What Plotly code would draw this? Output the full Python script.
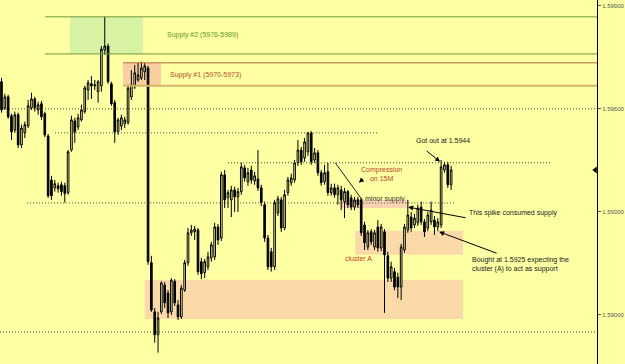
import plotly.graph_objects as go

# ---- data (prices) ----
idx = list(range(136))
open_ = [1.59679,1.59603,1.59635,1.59580,1.59538,1.59583,1.59495,1.59530,1.59550,1.59603,
         1.59629,1.59597,1.59615,1.59586,1.59521,1.59393,1.59370,1.59376,1.59379,1.59376,
         1.59356,1.59480,1.59565,1.59547,1.59568,1.59592,1.59655,1.59673,1.59667,1.59650,
         1.59667,1.59771,1.59783,1.59673,1.59618,1.59533,1.59550,1.59557,1.59560,1.59635,
         1.59664,1.59684,1.59690,1.59708,1.59719,1.59152,1.59009,1.58942,1.59009,1.59087,
         1.59064,1.59009,1.59098,1.59029,1.58994,1.59072,1.59152,1.59239,1.59242,1.59247,
         1.59155,1.59123,1.59140,1.59166,1.59169,1.59256,1.59224,1.59408,1.59341,1.59335,
         1.59364,1.59344,1.59359,1.59428,1.59388,1.59422,1.59390,1.59396,1.59370,1.59321,
         1.59224,1.59184,1.59140,1.59297,1.59335,1.59253,1.59356,1.59385,1.59393,1.59443,
         1.59480,1.59457,1.59475,1.59530,1.59451,1.59472,1.59414,1.59388,1.59417,1.59356,
         1.59370,1.59350,1.59364,1.59330,1.59359,1.59341,1.59314,1.59335,1.59335,1.59262,
         1.59198,1.59242,1.59198,1.59256,1.59195,1.59242,1.59172,1.59107,1.59126,1.59110,
         1.59081,1.59189,1.59247,1.59285,1.59262,1.59268,1.59314,1.59271,1.59253,1.59271,
         1.59276,1.59256,1.59262,1.59422,1.59437,1.59379]
high = [1.59690,1.59644,1.59641,1.59586,1.59592,1.59589,1.59554,1.59563,1.59626,1.59647,
        1.59635,1.59621,1.59623,1.59592,1.59527,1.59405,1.59393,1.59385,1.59388,1.59385,
        1.59480,1.59580,1.59574,1.59586,1.59612,1.59667,1.59684,1.59696,1.59684,1.59684,
        1.59783,1.59868,1.59790,1.59679,1.59626,1.59574,1.59583,1.59577,1.59670,1.59713,
        1.59728,1.59734,1.59737,1.59734,1.59725,1.59172,1.59020,1.59009,1.59098,1.59096,
        1.59072,1.59107,1.59104,1.59043,1.59087,1.59160,1.59253,1.59262,1.59259,1.59253,
        1.59166,1.59163,1.59184,1.59213,1.59268,1.59265,1.59417,1.59422,1.59364,1.59376,
        1.59373,1.59370,1.59443,1.59437,1.59428,1.59434,1.59417,1.59480,1.59379,1.59330,
        1.59233,1.59195,1.59335,1.59347,1.59344,1.59364,1.59402,1.59411,1.59451,1.59509,
        1.59489,1.59515,1.59533,1.59535,1.59486,1.59480,1.59422,1.59437,1.59443,1.59382,
        1.59382,1.59379,1.59376,1.59370,1.59364,1.59350,1.59344,1.59344,1.59341,1.59271,
        1.59247,1.59250,1.59247,1.59276,1.59265,1.59250,1.59184,1.59155,1.59137,1.59123,
        1.59207,1.59265,1.59335,1.59300,1.59294,1.59321,1.59330,1.59279,1.59300,1.59330,
        1.59288,1.59282,1.59451,1.59446,1.59446,1.59434]
low = [1.59589,1.59597,1.59571,1.59509,1.59530,1.59486,1.59486,1.59515,1.59544,1.59597,
       1.59592,1.59583,1.59568,1.59518,1.59341,1.59335,1.59359,1.59356,1.59347,1.59327,
       1.59350,1.59475,1.59501,1.59538,1.59563,1.59586,1.59626,1.59629,1.59655,1.59618,
       1.59650,1.59757,1.59673,1.59609,1.59501,1.59524,1.59538,1.59544,1.59554,1.59626,
       1.59658,1.59679,1.59684,1.59684,1.59146,1.59009,1.58919,1.58890,1.59003,1.59020,
       1.58991,1.59000,1.59026,1.58985,1.58988,1.59067,1.59143,1.59230,1.59218,1.59117,
       1.59104,1.59107,1.59131,1.59155,1.59160,1.59204,1.59215,1.59311,1.59311,1.59285,
       1.59300,1.59300,1.59350,1.59388,1.59376,1.59382,1.59379,1.59361,1.59317,1.59213,
       1.59131,1.59126,1.59131,1.59288,1.59242,1.59247,1.59347,1.59376,1.59385,1.59434,
       1.59437,1.59446,1.59463,1.59437,1.59443,1.59405,1.59376,1.59379,1.59347,1.59347,
       1.59341,1.59321,1.59305,1.59282,1.59311,1.59305,1.59305,1.59311,1.59230,1.59189,
       1.59189,1.59204,1.59189,1.59184,1.59186,1.59006,1.59096,1.59096,1.59072,1.59049,
       1.59043,1.59181,1.59239,1.59242,1.59253,1.59259,1.59262,1.59227,1.59244,1.59262,
       1.59233,1.59244,1.59253,1.59414,1.59370,1.59364]
close = [1.59597,1.59635,1.59577,1.59533,1.59583,1.59495,1.59544,1.59554,1.59609,1.59629,
         1.59603,1.59612,1.59577,1.59524,1.59347,1.59347,1.59382,1.59367,1.59359,1.59353,
         1.59475,1.59568,1.59533,1.59574,1.59597,1.59661,1.59676,1.59667,1.59670,1.59679,
         1.59774,1.59783,1.59679,1.59615,1.59533,1.59568,1.59574,1.59568,1.59661,1.59670,
         1.59705,1.59699,1.59719,1.59725,1.59155,1.59014,1.58942,1.58991,1.59093,1.59035,
         1.59006,1.59101,1.59035,1.58994,1.59078,1.59152,1.59239,1.59247,1.59250,1.59126,
         1.59120,1.59155,1.59169,1.59204,1.59256,1.59218,1.59408,1.59335,1.59356,1.59364,
         1.59344,1.59359,1.59431,1.59399,1.59414,1.59393,1.59405,1.59370,1.59327,1.59224,
         1.59140,1.59140,1.59327,1.59338,1.59253,1.59350,1.59393,1.59399,1.59443,1.59480,
         1.59446,1.59504,1.59530,1.59446,1.59472,1.59414,1.59385,1.59414,1.59356,1.59370,
         1.59350,1.59370,1.59335,1.59359,1.59321,1.59314,1.59335,1.59321,1.59239,1.59210,
         1.59239,1.59213,1.59239,1.59195,1.59256,1.59175,1.59107,1.59140,1.59081,1.59081,
         1.59198,1.59256,1.59291,1.59253,1.59282,1.59311,1.59271,1.59242,1.59291,1.59305,
         1.59256,1.59271,1.59431,1.59437,1.59379,1.59422]

tick_vals = [1.59000, 1.59300, 1.59600, 1.59900]
tick_text = ["1.59000", "1.59300", "1.59600", "1.59900"]

supply2 = (1.59760, 1.59868)
supply1 = (1.59667, 1.59734)
demand_zone = (1.58988, 1.59102)
cluster_a = (1.59175, 1.59245)
minor_supply = (1.59311, 1.59335)
dotted_levels = [(1.59600, -0.45, 178.8), (1.59530, 16.1, 113.1), (1.59443, 68.0, 165.3),
                 (1.59326, 7.7, 136.2), (1.58950, -0.45, 178.8)]

BG = "#FFFFA3"
XR = [-0.45, 178.8]
YR = [1.58857, 1.59917]

fig = go.Figure()
fig.add_trace(go.Candlestick(
    x=idx, open=open_, high=high, low=low, close=close,
    increasing=dict(line=dict(color="black", width=1), fillcolor=BG),
    decreasing=dict(line=dict(color="black", width=1), fillcolor="black"),
    whiskerwidth=0, showlegend=False, hoverinfo="skip"))

# current price marker on the right axis
fig.add_trace(go.Scatter(x=[XR[1] - 0.5], y=[close[-1]], mode="markers",
                         marker=dict(symbol="triangle-left", size=6, color="black"),
                         cliponaxis=False, showlegend=False, hoverinfo="skip"))

shapes = []
def rect(x0, x1, y0, y1, color):
    shapes.append(dict(type="rect", xref="x", yref="y", x0=x0, x1=x1, y0=y0, y1=y1,
                       fillcolor=color, line=dict(width=0), layer="below"))
def hline(y, x0, x1, color, width=1, dash="solid"):
    shapes.append(dict(type="line", xref="x", yref="y", x0=x0, x1=x1, y0=y, y1=y,
                       line=dict(color=color, width=width, dash=dash), layer="above"))

rect(20.6, 42.5, supply2[0], supply2[1], "#D8F2A4")
rect(36.5, 47.9, supply1[0], supply1[1], "#F9CFA0")
rect(43.0, 138.6, demand_zone[0], demand_zone[1], "#FBD9A8")
rect(106.2, 138.6, cluster_a[0], cluster_a[1], "#FBD9A8")
rect(101.7, 121.8, minor_supply[0], minor_supply[1], "#F8D4B0")

hline(supply2[1], 13.1, XR[1], "#6B9A3A")
hline(supply2[0], 13.1, XR[1], "#6B9A3A")
hline(supply1[1], 36.5, XR[1], "#B0683A")
hline(supply1[0], 36.5, XR[1], "#D5B46E", width=2)
for lv, a, b in dotted_levels:
    hline(lv, a, b, "#444444", dash="1px,2px")

# trend line into minor supply
shapes.append(dict(type="line", xref="x", yref="y", x0=100.2, y0=1.59443, x1=108.3, y1=1.59335,
                   line=dict(color="#222222", width=1)))

FONT = "Liberation Sans"
ann = []
def text(x, y, s, color, xanchor="left", align="left"):
    ann.append(dict(x=x, y=y, xref="x", yref="y", text=s, showarrow=False,
                    xanchor=xanchor, yanchor="middle", align=align,
                    font=dict(family=FONT, size=7, color=color)))
def arrow(x, y, ax, ay):
    ann.append(dict(x=x, y=y, ax=ax, ay=ay, xref="x", yref="y", axref="x", ayref="y",
                    text="", showarrow=True, arrowhead=2, arrowsize=1, arrowwidth=1,
                    arrowcolor="black"))

text(49.1, 1.59816, "Supply #2 (5976-5989)", "#5E9A2C")
text(50.0, 1.59699, "Supply #1 (5970-5973)", "#B5502A")
text(114.0, 1.59411, "Compression<br>on 15M", "#C0452A", xanchor="center", align="center")
text(108.6, 1.59338, "minor supply", "#333333")
text(102.6, 1.59163, "cluster A", "#C0452A")
text(123.9, 1.59507, "Got out at 1.5944", "#222222")
text(139.8, 1.59297, "This spike consumed supply", "#222222")
text(140.7, 1.59148, "Bought at 1.5925 expecting the<br>cluster (A) to act as support", "#222222")

arrow(131.7, 1.59446, 127.2, 1.59481)
arrow(122.1, 1.59314, 139.8, 1.59282)
arrow(131.4, 1.59242, 149.1, 1.59178)
arrow(107.3, 1.59385, 109.0, 1.59400)

fig.update_layout(
    width=625, height=364, margin=dict(l=0, r=28, t=0, b=0),
    paper_bgcolor=BG, plot_bgcolor=BG, shapes=shapes, annotations=ann,
    showlegend=False,
    xaxis=dict(range=XR, visible=False, rangeslider=dict(visible=False), fixedrange=True),
    yaxis=dict(range=YR, side="right", showgrid=False, zeroline=False,
               showline=True, linecolor="black", linewidth=1,
               ticks="outside", ticklen=3, tickcolor="#555555",
               tickvals=tick_vals, ticktext=tick_text,
               tickfont=dict(family=FONT, size=6, color="#555555")),
)
fig.write_html("out.html")
